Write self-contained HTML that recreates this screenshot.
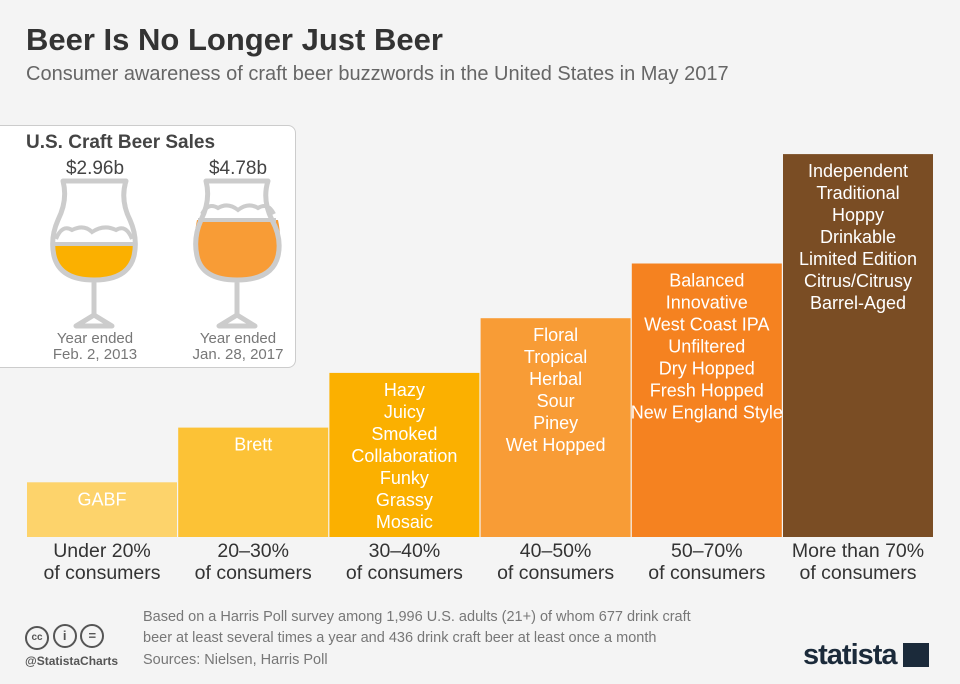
<!DOCTYPE html>
<html><head><meta charset="utf-8"><style>
body{margin:0;width:960px;height:684px;background:#f4f4f4;font-family:"Liberation Sans",sans-serif;overflow:hidden;position:relative}
.t{position:absolute;white-space:nowrap}
</style></head><body>
<div class="t" style="left:26px;top:22px;font-size:31px;font-weight:bold;color:#333">Beer Is No Longer Just Beer</div>
<div class="t" style="left:26px;top:63px;font-size:20px;color:#666">Consumer awareness of craft beer buzzwords in the United States in May 2017</div>
<svg id="chart" width="960" height="684" style="position:absolute;left:0;top:0"></svg>
<div style="position:absolute;left:-10px;top:125px;width:304px;height:241px;background:#fff;border:1px solid #ccc;border-radius:8px"></div>
<svg width="300" height="250" style="position:absolute;left:0;top:120px">
<text x="26" y="28" font-size="19" font-weight="bold" fill="#444" font-family="Liberation Sans">U.S. Craft Beer Sales</text>
<text x="95" y="54" font-size="19" fill="#444" text-anchor="middle" font-family="Liberation Sans">$2.96b</text>
<text x="238" y="54" font-size="19" fill="#444" text-anchor="middle" font-family="Liberation Sans">$4.78b</text>
<g>
<path d="M54,124 Q54,158 94,160 Q134,158 134,124 Z" fill="#fbb000"/>
<path d="M63,61 L126,61 Q120,80 130,100 Q138,118 134,136 Q128,160 94,160 Q60,160 54,136 Q50,118 58,100 Q68,80 63,61 Z M94,160 L94,195 L76,206 L112,206 L94,195" fill="none" stroke="#ccc" stroke-width="5" stroke-linejoin="round"/>
<path d="M56,119 Q62,104 72,110 Q84,104 92,112 Q104,104 116,110 Q126,104 132,119" fill="none" stroke="#ccc" stroke-width="4"/>
<line x1="54" y1="124" x2="134" y2="124" stroke="#ccc" stroke-width="4"/>
</g>
<g>
<path d="M197,100 L278,100 Q282,118 278,136 Q272,160 237,160 Q202,160 197,136 Q193,118 197,100 Z" fill="#f89c36"/>
<path d="M206,61 L268,61 Q262,80 272,100 Q282,118 278,136 Q272,160 237,160 Q202,160 197,136 Q193,118 201,100 Q211,80 206,61 Z M237,160 L237,195 L219,206 L255,206 L237,195" fill="none" stroke="#ccc" stroke-width="5" stroke-linejoin="round"/>
<path d="M202,94 Q208,82 218,88 Q228,82 238,90 Q248,82 258,88 Q268,82 274,94" fill="none" stroke="#ccc" stroke-width="4"/>
<line x1="198" y1="100" x2="276" y2="100" stroke="#ccc" stroke-width="4"/>
</g>
<text x="95" y="223" font-size="15" fill="#777" text-anchor="middle" font-family="Liberation Sans">Year ended</text>
<text x="95" y="239" font-size="15" fill="#777" text-anchor="middle" font-family="Liberation Sans">Feb. 2, 2013</text>
<text x="238" y="223" font-size="15" fill="#777" text-anchor="middle" font-family="Liberation Sans">Year ended</text>
<text x="238" y="239" font-size="15" fill="#777" text-anchor="middle" font-family="Liberation Sans">Jan. 28, 2017</text>
</svg>
<div style="position:absolute;left:25px;top:624px;font-size:13px;color:#555">
<span style="display:inline-block;width:20px;height:20px;border:2px solid #555;border-radius:50%;text-align:center;line-height:20px;font-weight:bold;font-size:10px">cc</span>
<span style="display:inline-block;width:20px;height:20px;border:2px solid #555;border-radius:50%;text-align:center;line-height:20px;font-weight:bold">i</span>
<span style="display:inline-block;width:20px;height:20px;border:2px solid #555;border-radius:50%;text-align:center;line-height:20px;font-weight:bold">=</span>
</div>
<div class="t" style="left:25px;top:654px;font-size:12px;font-weight:bold;color:#555">@StatistaCharts</div>
<div class="t" style="left:143px;top:607px;font-size:14.5px;line-height:21px;color:#777">Based on a Harris Poll survey among 1,996 U.S. adults (21+) of whom 677 drink craft<br>beer at least several times a year and 436 drink craft beer at least once a month</div>
<div class="t" style="left:143px;top:652px;font-size:14.5px;color:#777">Sources: Nielsen, Harris Poll</div>
<div class="t" style="left:803px;top:639px;font-size:29px;font-weight:bold;color:#1b2a3a;letter-spacing:-1px">statista<span style="display:inline-block;width:26px;height:24px;background:#1b2a3a;margin-left:6px;vertical-align:-3px"></span></div>
<script>
const categories=["Under 20%|of consumers","20–30%|of consumers","30–40%|of consumers","40–50%|of consumers","50–70%|of consumers","More than 70%|of consumers"];
const levels=[1,2,3,4,5,7];
const colors=["#fdd36b","#fcc236","#fbb000","#f89c36","#f58220","#7a4d24"];
const words=[["GABF"],["Brett"],["Hazy","Juicy","Smoked","Collaboration","Funky","Grassy","Mosaic"],["Floral","Tropical","Herbal","Sour","Piney","Wet Hopped"],["Balanced","Innovative","West Coast IPA","Unfiltered","Dry Hopped","Fresh Hopped","New England Style"],["Independent","Traditional","Hoppy","Drinkable","Limited Edition","Citrus/Citrusy","Barrel-Aged"]];
const svg=document.getElementById('chart');const NS='http://www.w3.org/2000/svg';
const base=537,unit=54.7,x0=27,step=151.2,bw=150;
const y=v=>base-v*unit, x=i=>x0+i*step;
levels.forEach((v,i)=>{
 const r=document.createElementNS(NS,'rect');
 r.setAttribute('x',x(i));r.setAttribute('y',y(v));r.setAttribute('width',bw);r.setAttribute('height',base-y(v));r.setAttribute('fill',colors[i]);
 
 
 svg.appendChild(r);
 words[i].forEach((w,j)=>{
  const t=document.createElementNS(NS,'text');
  t.setAttribute('x',x(i)+bw/2);t.setAttribute('y',y(v)+23+j*22);t.setAttribute('text-anchor','middle');t.setAttribute('fill','#fff');t.setAttribute('font-size','18');t.setAttribute('font-family','Liberation Sans');t.textContent=w;
  
  
  svg.appendChild(t);
 });
 categories[i].split('|').forEach((s,j)=>{
  const t=document.createElementNS(NS,'text');
  t.setAttribute('x',x(i)+bw/2);t.setAttribute('y',557+j*22);t.setAttribute('text-anchor','middle');t.setAttribute('fill','#333');t.setAttribute('font-size','19.5');t.setAttribute('font-family','Liberation Sans');t.textContent=s;
  
  
  svg.appendChild(t);
 });
});
</script>
</body></html>
